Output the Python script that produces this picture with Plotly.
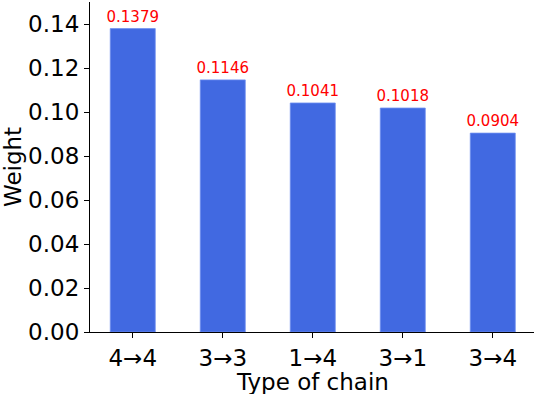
import plotly.graph_objects as go

categories = ["4→4", "3→3", "1→4", "3→1", "3→4"]
weights = [0.1379, 0.1146, 0.1041, 0.1018, 0.0904]
labels = ["0.1379", "0.1146", "0.1041", "0.1018", "0.0904"]
y_ticks = [0.00, 0.02, 0.04, 0.06, 0.08, 0.10, 0.12, 0.14]
x_title = "Type of chain"
y_title = "Weight"

FONT = "DejaVu Sans"

fig = go.Figure(
    go.Bar(
        x=list(range(len(categories))),
        y=weights,
        width=0.5,
        marker=dict(color="#4169E1", line=dict(color="#6f8ff0", width=0.8)),
        text=labels,
        textposition="outside",
        constraintext="none",
        textfont=dict(family=FONT, size=15, color="red"),
        cliponaxis=False,
    )
)

axis_common = dict(
    tickfont=dict(size=23),
    showline=True,
    linecolor="black",
    linewidth=1.2,
    ticks="outside",
    ticklen=5,
    tickwidth=1.2,
    tickcolor="black",
    showgrid=False,
    zeroline=False,
    automargin=False,
)

fig.update_layout(
    width=534,
    height=394,
    margin=dict(l=90, r=0, t=2, b=62),
    plot_bgcolor="white",
    paper_bgcolor="white",
    showlegend=False,
    font=dict(family=FONT, color="black"),
    xaxis=dict(
        range=[-0.475, 4.458],
        tickmode="array",
        tickvals=list(range(len(categories))),
        ticktext=categories,
        **axis_common,
    ),
    yaxis=dict(
        range=[0, 0.15],
        tickmode="array",
        tickvals=y_ticks,
        ticktext=[f"{v:.2f}" for v in y_ticks],
        **axis_common,
    ),
    annotations=[
        dict(
            text=x_title, xref="paper", yref="paper", x=0.5, y=0,
            xanchor="center", yanchor="middle", yshift=-50,
            showarrow=False, font=dict(size=23, family=FONT, color="black"),
        ),
        dict(
            text=y_title, xref="paper", yref="paper", x=0, y=0.5,
            xanchor="center", yanchor="middle", xshift=-77, textangle=-90,
            showarrow=False, font=dict(size=23, family=FONT, color="black"),
        ),
    ],
)

fig.write_html(
    "out.html",
    config={"displayModeBar": False},
    post_script="document.body.style.margin='0px';document.body.style.overflow='hidden';",
)
